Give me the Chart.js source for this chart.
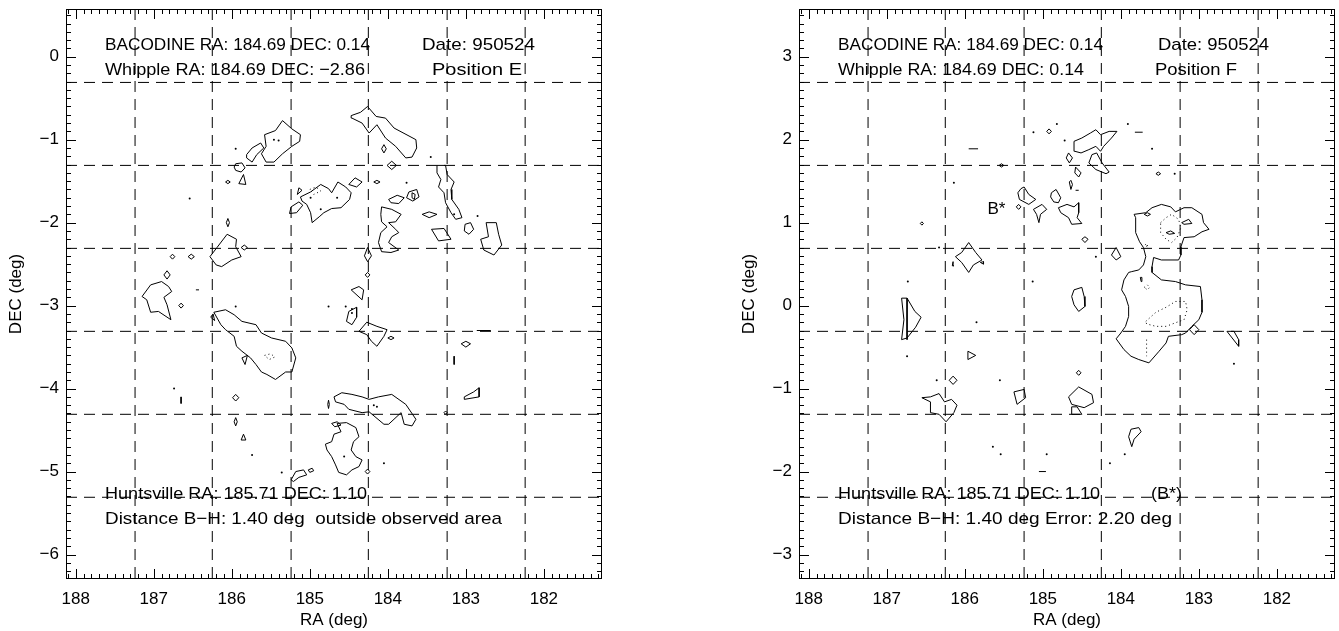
<!DOCTYPE html>
<html>
<head>
<meta charset="utf-8">
<script src="https://cdn.jsdelivr.net/npm/chart.js@4.4.1/dist/chart.umd.min.js"></script>
<style>
  html, body { margin: 0; padding: 0; background: #fff; overflow: hidden; }
  #wrap { position: relative; width: 1339px; height: 631px; }
  canvas { position: absolute; top: 0; }
</style>
</head>
<body>
<div id="wrap">
  <canvas id="panelE" width="669" height="631" style="left:0px"></canvas>
  <canvas id="panelF" width="606" height="631" style="left:733px"></canvas>
</div>
<script>
// ---- axis ranges and tick labels (RA reversed: large values on the left)
const raRange = [188.125, 181.255];
const decRangeE = [-6.295, 0.575];
const decRangeF = [-3.295, 3.575];
const raTickLabels = [188, 187, 186, 185, 184, 183, 182];

// dashed detector grid
const raGrid = [187.24, 186.25, 185.24, 184.25, 183.24, 182.24];
const decGridE = [-0.31, -1.31, -2.31, -3.31, -4.31, -5.31];
const decGridF = [2.69, 1.69, 0.69, -0.31, -1.31, -2.31];

// Huntsville position (the B* marker)
const huntsville = [185.71, 1.10];

// ---- Position E contours [RA, DEC]
const contoursE = [
  [[185.58,-0.94],[185.44,-0.89],[185.35,-0.77],[185.23,-0.87],[185.12,-0.94],[185.13,-1.02],[185.23,-1.08],[185.35,-1.17],[185.46,-1.27],[185.56,-1.27],[185.62,-1.17],[185.56,-1.08]],
  [[185.81,-1.18],[185.74,-1.10],[185.63,-1.04],[185.59,-1.10],[185.68,-1.18],[185.74,-1.27],[185.81,-1.22]],
  [[184.47,-0.71],[184.35,-0.67],[184.26,-0.60],[184.15,-0.72],[184.03,-0.74],[183.92,-0.86],[183.64,-1.00],[183.63,-1.10],[183.69,-1.21],[183.77,-1.22],[183.90,-1.08],[184.03,-0.98],[184.14,-0.82],[184.24,-0.92],[184.33,-0.80],[184.46,-0.74]],
  [[184.08,-1.11],[184.05,-1.06],[184.02,-1.11],[184.05,-1.16]],
  [[184.01,-1.31],[183.95,-1.26],[183.89,-1.31],[183.95,-1.36]],
  [[185.95,-1.29],[185.87,-1.28],[185.83,-1.34],[185.88,-1.39],[185.95,-1.37],[185.97,-1.33]],
  [[185.91,-1.53],[185.85,-1.42],[185.82,-1.54]],
  [[186.08,-1.51],[186.05,-1.49],[186.02,-1.51],[186.05,-1.53]],
  [[185.12,-1.69],[184.99,-1.63],[184.86,-1.54],[184.76,-1.59],[184.72,-1.64],[184.64,-1.51],[184.54,-1.57],[184.47,-1.64],[184.49,-1.72],[184.60,-1.82],[184.72,-1.83],[184.82,-1.88],[184.88,-1.93],[184.97,-2.00],[184.99,-1.88],[185.04,-1.78],[185.10,-1.74]],
  [[185.24,-1.81],[185.14,-1.75],[185.09,-1.79],[185.17,-1.88],[185.26,-1.89]],
  [[185.14,-1.58],[185.10,-1.61],[185.16,-1.66]],
  [[184.50,-1.54],[184.42,-1.46],[184.33,-1.51],[184.40,-1.57]],
  [[184.18,-1.51],[184.14,-1.49],[184.10,-1.51],[184.14,-1.53]],
  [[183.69,-1.64],[183.65,-1.66],[183.66,-1.72],[183.69,-1.70]],
  [[183.99,-1.72],[183.88,-1.67],[183.79,-1.70],[183.86,-1.77],[183.96,-1.76]],
  [[184.08,-1.81],[183.95,-1.84],[183.83,-1.90],[183.90,-1.99],[183.99,-2.00],[183.90,-2.08],[183.86,-2.12],[183.95,-2.17],[183.99,-2.24],[183.86,-2.33],[183.96,-2.36],[184.08,-2.35],[184.12,-2.24],[184.09,-2.12],[184.01,-2.05],[184.08,-1.99],[184.09,-1.90]],
  [[183.37,-1.31],[183.26,-1.31],[183.24,-1.42],[183.15,-1.51],[183.19,-1.60],[183.18,-1.72],[183.09,-1.84],[183.05,-1.94],[183.13,-1.96],[183.19,-1.88],[183.26,-1.76],[183.28,-1.64],[183.35,-1.57],[183.32,-1.48],[183.37,-1.40]],
  [[183.56,-1.90],[183.47,-1.87],[183.37,-1.90],[183.47,-1.94]],
  [[183.44,-2.08],[183.28,-2.07],[183.19,-2.20],[183.35,-2.22]],
  [[183.01,-2.02],[182.94,-2.00],[182.90,-2.08],[182.96,-2.14],[183.02,-2.10]],
  [[182.74,-2.00],[182.61,-2.00],[182.58,-2.14],[182.54,-2.27],[182.64,-2.39],[182.77,-2.33],[182.81,-2.20],[182.71,-2.17]],
  [[183.73,-1.63],[183.63,-1.60],[183.60,-1.69],[183.68,-1.74],[183.76,-1.70]],
  [[186.28,-2.41],[186.19,-2.30],[186.06,-2.14],[185.94,-2.20],[185.95,-2.29],[185.88,-2.41],[186.00,-2.45],[186.13,-2.53],[186.20,-2.51]],
  [[185.88,-2.30],[185.84,-2.27],[185.80,-2.30],[185.84,-2.33]],
  [[186.07,-2.00],[186.05,-1.95],[186.03,-2.00],[186.05,-2.05]],
  [[186.79,-2.41],[186.76,-2.38],[186.73,-2.41],[186.76,-2.44]],
  [[186.56,-2.41],[186.52,-2.38],[186.48,-2.41],[186.52,-2.44]],
  [[187.15,-2.89],[187.04,-2.75],[186.90,-2.71],[186.81,-2.77],[186.77,-2.83],[186.87,-2.90],[186.83,-2.99],[186.78,-3.17],[186.94,-3.07],[187.04,-3.08],[187.09,-2.93]],
  [[186.87,-2.63],[186.83,-2.58],[186.79,-2.63],[186.83,-2.68]],
  [[186.68,-3.00],[186.65,-2.97],[186.62,-3.00],[186.65,-3.03]],
  [[184.26,-2.30],[184.21,-2.40],[184.26,-2.47],[184.30,-2.40]],
  [[184.29,-2.63],[184.26,-2.60],[184.23,-2.63],[184.26,-2.66]],
  [[184.47,-2.81],[184.37,-2.77],[184.31,-2.81],[184.33,-2.93]],
  [[186.23,-3.08],[186.08,-3.05],[185.97,-3.11],[185.87,-3.19],[185.69,-3.23],[185.62,-3.33],[185.49,-3.39],[185.31,-3.43],[185.23,-3.51],[185.18,-3.63],[185.23,-3.80],[185.31,-3.80],[185.44,-3.89],[185.55,-3.83],[185.62,-3.80],[185.69,-3.71],[185.76,-3.63],[185.87,-3.55],[185.94,-3.49],[185.97,-3.37],[186.08,-3.29],[186.14,-3.23]],
  [[185.87,-3.63],[185.80,-3.60],[185.83,-3.71]],
  [[186.27,-3.14],[186.24,-3.10],[186.22,-3.18]],
  [[184.50,-3.07],[184.40,-3.02],[184.40,-3.14],[184.46,-3.23],[184.53,-3.19]],
  [[184.37,-3.31],[184.27,-3.20],[184.14,-3.25],[184.01,-3.29],[184.05,-3.37],[184.14,-3.49],[184.21,-3.43],[184.27,-3.35]],
  [[184.00,-3.39],[183.96,-3.37],[183.92,-3.39],[183.96,-3.41]],
  [[183.06,-3.46],[183.00,-3.43],[182.94,-3.46],[183.00,-3.50]],
  [[183.02,-4.10],[182.90,-4.04],[182.83,-3.99],[182.83,-4.10],[183.02,-4.13]],
  [[184.69,-4.10],[184.59,-4.05],[184.46,-4.07],[184.33,-4.10],[184.24,-4.13],[184.12,-4.10],[183.95,-4.07],[183.77,-4.19],[183.64,-4.37],[183.69,-4.45],[183.79,-4.43],[183.83,-4.29],[183.99,-4.43],[184.05,-4.43],[184.24,-4.28],[184.33,-4.29],[184.50,-4.25],[184.56,-4.19],[184.67,-4.16]],
  [[184.65,-4.42],[184.53,-4.41],[184.41,-4.47],[184.37,-4.58],[184.44,-4.64],[184.47,-4.74],[184.41,-4.82],[184.33,-4.86],[184.37,-4.94],[184.46,-4.98],[184.53,-5.04],[184.63,-5.01],[184.67,-4.92],[184.72,-4.82],[184.78,-4.74],[184.80,-4.67],[184.72,-4.64],[184.69,-4.55],[184.60,-4.52]],
  [[184.72,-4.42],[184.65,-4.40],[184.60,-4.44],[184.68,-4.46]],
  [[185.24,-5.10],[185.18,-5.00],[185.08,-4.98],[185.04,-5.04],[185.14,-5.07],[185.21,-5.12]],
  [[185.02,-4.98],[184.97,-4.96],[184.95,-4.99],[185.00,-5.01]],
  [[184.77,-4.19],[184.76,-4.14],[184.75,-4.19],[184.76,-4.24]],
  [[185.99,-4.11],[185.95,-4.07],[185.91,-4.11],[185.95,-4.15]],
  [[185.97,-4.40],[185.95,-4.35],[185.93,-4.40],[185.95,-4.45]],
  [[185.88,-4.62],[185.85,-4.55],[185.82,-4.62]],
  [[184.29,-5.00],[184.26,-4.97],[184.23,-5.00],[184.26,-5.03]],
  [[183.28,-4.29],[183.26,-4.27],[183.24,-4.29],[183.26,-4.31]]
];
const openE = [
  [[186.65,-4.10],[186.65,-4.18]],
  [[183.15,-3.61],[183.15,-3.71]],
  [[182.86,-3.30],[182.68,-3.30]],
  [[186.46,-2.81],[186.42,-2.81]]
];
const dottedE = [
  [[185.58,-3.60],[185.50,-3.58],[185.45,-3.62],[185.52,-3.65]],
  [[185.00,-1.60],[184.92,-1.57],[184.86,-1.62],[184.95,-1.66]]
];
const dotsE = [
  [186.54,-1.71],[185.95,-1.11],[186.74,-4.00],[183.45,-1.21],[183.76,-1.52],[182.85,-1.92],
  [184.76,-3.01],[184.54,-3.01],[184.46,-3.04],[185.95,-3.01],[184.05,-4.90],[185.36,-5.01],
  [185.74,-4.80],[184.18,-4.20],[184.14,-4.22],[183.15,-1.90],[185.46,-1.00],[185.40,-1.01],
  [184.46,-3.09],[184.56,-4.82],[184.99,-1.70],[184.86,-1.84],[184.65,-1.70]
];

// ---- Position F contours [RA, DEC]
const contoursF = [
  [[184.60,1.98],[184.50,2.02],[184.39,2.08],[184.32,2.12],[184.26,2.06],[184.15,2.10],[184.05,2.10],[184.12,2.02],[184.22,1.92],[184.26,1.86],[184.32,1.92],[184.41,1.88],[184.51,1.84],[184.59,1.86]],
  [[184.37,1.82],[184.31,1.84],[184.24,1.72],[184.15,1.61],[184.19,1.59],[184.32,1.64],[184.41,1.72]],
  [[184.67,1.84],[184.62,1.78],[184.66,1.72],[184.70,1.78]],
  [[184.58,1.67],[184.51,1.60],[184.54,1.55],[184.59,1.60]],
  [[185.28,1.41],[185.24,1.43],[185.18,1.34],[185.09,1.28],[185.18,1.22],[185.30,1.28],[185.32,1.36]],
  [[185.12,1.16],[185.01,1.22],[184.95,1.16],[185.03,1.10],[185.05,1.00],[185.08,1.10]],
  [[184.89,1.36],[184.83,1.40],[184.77,1.30],[184.80,1.24],[184.86,1.25],[184.90,1.31]],
  [[184.80,1.18],[184.69,1.22],[184.60,1.19],[184.54,1.24],[184.54,1.12],[184.56,1.06],[184.50,0.99],[184.63,0.98],[184.67,1.06],[184.77,1.12]],
  [[184.50,0.80],[184.46,0.83],[184.42,0.80],[184.46,0.76]],
  [[184.66,1.49],[184.64,1.51],[184.62,1.46],[184.64,1.40]],
  [[184.06,0.70],[184.00,0.59],[184.06,0.55],[184.12,0.61]],
  [[186.12,0.59],[186.04,0.64],[185.95,0.76],[185.86,0.64],[185.78,0.55],[185.89,0.49],[185.95,0.40],[186.04,0.52]],
  [[186.15,0.53],[186.16,0.48],[186.14,0.48]],
  [[185.80,0.52],[185.76,0.53],[185.76,0.50]],
  [[185.34,1.19],[185.31,1.22],[185.28,1.19],[185.31,1.16]],
  [[183.83,1.10],[183.68,1.12],[183.60,1.18],[183.48,1.22],[183.36,1.19],[183.30,1.13],[183.19,1.18],[183.09,1.18],[182.96,1.10],[182.94,1.00],[182.87,0.92],[182.96,0.89],[183.06,0.83],[183.19,0.82],[183.23,0.71],[183.23,0.61],[183.26,0.55],[183.48,0.55],[183.58,0.58],[183.60,0.47],[183.60,0.40],[183.48,0.31],[183.30,0.29],[183.17,0.25],[182.98,0.23],[182.96,0.07],[182.96,-0.08],[183.00,-0.17],[183.09,-0.25],[183.17,-0.33],[183.22,-0.35],[183.39,-0.37],[183.42,-0.45],[183.51,-0.55],[183.64,-0.69],[183.77,-0.65],[183.87,-0.61],[183.96,-0.53],[184.06,-0.40],[184.00,-0.33],[183.94,-0.25],[183.90,-0.13],[183.90,-0.01],[183.94,0.11],[183.99,0.19],[183.96,0.31],[183.90,0.40],[183.86,0.41],[183.77,0.43],[183.71,0.49],[183.68,0.59],[183.71,0.70],[183.76,0.77],[183.81,0.88],[183.81,0.98],[183.81,1.06]],
  [[183.70,1.10],[183.66,1.12],[183.62,1.10],[183.66,1.08]],
  [[183.22,1.00],[183.13,1.04],[183.09,0.99],[183.19,0.98]],
  [[183.42,0.88],[183.36,0.90],[183.31,0.87],[183.38,0.86]],
  [[183.75,0.34],[183.74,0.29],[183.73,0.34]],
  [[184.60,0.19],[184.50,0.22],[184.47,0.11],[184.46,-0.01],[184.54,-0.07],[184.60,0.01],[184.63,0.11]],
  [[183.12,-0.29],[183.06,-0.23],[183.00,-0.29],[183.06,-0.35]],
  [[186.81,0.09],[186.74,0.09],[186.64,-0.07],[186.56,-0.14],[186.63,-0.26],[186.74,-0.39],[186.81,-0.41],[186.78,-0.17]],
  [[186.55,-1.11],[186.44,-1.10],[186.33,-1.06],[186.26,-1.16],[186.17,-1.13],[186.10,-1.20],[186.14,-1.29],[186.24,-1.40],[186.33,-1.31],[186.44,-1.29],[186.44,-1.16]],
  [[186.20,-0.90],[186.15,-0.85],[186.10,-0.90],[186.15,-0.95]],
  [[185.96,-0.55],[185.86,-0.60],[185.96,-0.65]],
  [[185.37,-1.04],[185.24,-1.01],[185.22,-1.11],[185.33,-1.19]],
  [[184.67,-1.10],[184.54,-0.98],[184.37,-1.07],[184.35,-1.17],[184.47,-1.23],[184.63,-1.19]],
  [[184.63,-1.22],[184.56,-1.22],[184.50,-1.31],[184.63,-1.31]],
  [[184.57,-0.81],[184.54,-0.78],[184.51,-0.81],[184.54,-0.84]],
  [[183.87,-1.49],[183.77,-1.47],[183.74,-1.52],[183.83,-1.61],[183.86,-1.70],[183.90,-1.58]],
  [[182.64,-0.31],[182.55,-0.31],[182.49,-0.41],[182.49,-0.49]],
  [[186.57,0.99],[186.55,1.01],[186.53,0.99],[186.55,0.97]],
  [[185.56,1.69],[185.53,1.71],[185.50,1.69],[185.53,1.67]],
  [[184.95,2.10],[184.92,2.13],[184.89,2.10],[184.92,2.07]],
  [[183.55,1.59],[183.52,1.61],[183.49,1.59],[183.52,1.57]]
];
const openF = [
  [[185.95,1.89],[185.83,1.89]],
  [[183.82,2.09],[183.72,2.09]],
  [[185.05,-2.00],[184.96,-2.00]],
  [[184.58,1.39],[184.54,1.39]],
  [[186.74,0.09],[186.74,-0.41]]
];
const dottedF = [
  [[183.49,1.00],[183.42,1.06],[183.35,1.10],[183.26,1.04],[183.23,0.94],[183.28,0.82],[183.35,0.76],[183.42,0.80],[183.49,0.88]],
  [[183.68,-0.19],[183.55,-0.08],[183.42,-0.02],[183.30,0.05],[183.17,0.05],[183.15,-0.05],[183.19,-0.17],[183.28,-0.20],[183.42,-0.25],[183.55,-0.25],[183.67,-0.22]],
  [[183.70,0.22],[183.66,0.25],[183.63,0.22],[183.66,0.19]],
  [[183.69,0.73],[183.67,0.75],[183.65,0.70]]
];
const dottedOpenF = [
  [[183.67,-0.41],[183.67,-0.61]]
];
const dotsF = [
  [186.36,-0.90],[185.55,-0.90],[185.64,-1.70],[185.54,-1.79],[184.95,-1.79],[183.95,-1.79],
  [184.14,-1.90],[186.74,-0.61],[182.55,-0.70],[186.33,0.70],[186.14,1.48],[186.73,0.29],
  [185.13,0.29],[185.12,2.09],[184.82,2.19],[184.72,1.99],[183.91,2.19],[183.60,1.89],
  [183.31,1.59],[184.32,0.59],[185.85,-0.20]
];

// ---- text lines: offset from the frame corner and the width each line spans
const notesE = [
  { text: 'BACODINE RA: 184.69 DEC: 0.14', dx: 39, dy: 41, w: 265 },
  { text: 'Date: 950524', dx: 356, dy: 41, w: 113 },
  { text: 'Whipple RA: 184.69 DEC: \u22122.86', dx: 39, dy: 66, w: 260 },
  { text: 'Position E', dx: 366, dy: 66, w: 90 },
  { text: 'Huntsville RA: 185.71 DEC: 1.10', dx: 39, dy: 490, w: 262 },
  { text: 'Distance B\u2212H: 1.40 deg  outside observed area', dx: 39, dy: 515, w: 397 }
];
const notesF = [
  { text: 'BACODINE RA: 184.69 DEC: 0.14', dx: 39, dy: 41, w: 265 },
  { text: 'Date: 950524', dx: 359, dy: 41, w: 111 },
  { text: 'Whipple RA: 184.69 DEC: 0.14', dx: 39, dy: 66, w: 246 },
  { text: 'Position F', dx: 356, dy: 66, w: 82 },
  { text: 'Huntsville RA: 185.71 DEC: 1.10', dx: 39, dy: 490, w: 262 },
  { text: '(B*)', dx: 352, dy: 490, w: 31 },
  { text: 'Distance B\u2212H: 1.40 deg Error: 2.20 deg', dx: 39, dy: 515, w: 334 }
];

const FONT = { family: '"Liberation Sans", Arial, sans-serif', size: 17 };

function pts(list) { return list.map(p => ({ x: p[0], y: p[1] })); }

function lineSet(data, dash) {
    return { data: data, showLine: true, borderColor: '#000', borderWidth: 1, pointRadius: 0, borderDash: dash || [], tension: 0 };
}

function buildDatasets(decRange, decGrid, contours, open, dotted, dottedOpen, dots) {
    let sets = [];
    // dashed grid
    raGrid.forEach(v => sets.push(lineSet(pts([[v, decRange[1]], [v, decRange[0]]]), [11, 7])));
    decGrid.forEach(v => sets.push(lineSet(pts([[raRange[0], v], [raRange[1], v]]), [11, 7])));
    // closed contours
    contours.forEach(c => sets.push(lineSet(pts(c.concat([c[0]])))));
    open.forEach(c => sets.push(lineSet(pts(c))));
    dotted.forEach(c => sets.push(lineSet(pts(c.concat([c[0]])), [1, 3])));
    dottedOpen.forEach(c => sets.push(lineSet(pts(c), [1, 3])));
    sets.push({ data: pts(dots), showLine: false, pointRadius: 1, pointBorderWidth: 0, backgroundColor: '#000' });
    return sets;
}

// text stretched horizontally to the width it has in the original plot
function fitText(ctx, text, x, y, w) {
    const natural = ctx.measureText(text).width;
    ctx.save();
    ctx.translate(x, y);
    ctx.scale(w ? w / natural : 1, 1);
    ctx.fillText(text, 0, 0);
    ctx.restore();
}

// frame with inward major/minor ticks on all four sides, plus the text lines
const frameAndNotes = {
    id: 'frameAndNotes',
    afterDraw(chart, args, opts) {
        const { ctx, chartArea: a, scales: { x, y } } = chart;
        ctx.save();
        ctx.strokeStyle = '#000';
        ctx.lineWidth = 1;
        ctx.strokeRect(a.left + 0.5, a.top + 0.5, a.right - a.left - 1, a.bottom - a.top - 1);
        ctx.beginPath();
        for (let i = Math.ceil(x.min * 10); i <= Math.floor(x.max * 10); i++) {
            const len = i % 10 === 0 ? 10 : 5;
            const px = Math.round(x.getPixelForValue(i / 10)) + 0.5;
            ctx.moveTo(px, a.bottom); ctx.lineTo(px, a.bottom - len);
            ctx.moveTo(px, a.top); ctx.lineTo(px, a.top + len);
        }
        for (let i = Math.ceil(y.min * 10); i <= Math.floor(y.max * 10); i++) {
            const len = i % 10 === 0 ? 10 : 5;
            const py = Math.round(y.getPixelForValue(i / 10)) + 0.5;
            ctx.moveTo(a.left, py); ctx.lineTo(a.left + len, py);
            ctx.moveTo(a.right, py); ctx.lineTo(a.right - len, py);
        }
        ctx.stroke();

        ctx.fillStyle = '#000';
        ctx.font = FONT.size + 'px ' + FONT.family;
        ctx.textBaseline = 'alphabetic';
        (opts.items || []).forEach(n => fitText(ctx, n.text, a.left + n.dx, a.top + n.dy, n.w));
        if (opts.marker) {
            fitText(ctx, 'B*', x.getPixelForValue(opts.marker[0]), y.getPixelForValue(opts.marker[1]), 18);
        }
        ctx.restore();
    }
};

// drop the label half-height padding so the frame sits exactly where asked
function noPad(s) { s.paddingTop = 0; s.paddingBottom = 0; s.paddingLeft = 0; s.paddingRight = 0; }

function makePanel(id, decRange, datasets, notes, marker, padRight) {
    new Chart(document.getElementById(id), {
        type: 'scatter',
        data: { datasets: datasets },
        plugins: [frameAndNotes],
        options: {
            responsive: false,
            animation: false,
            events: [],
            layout: { padding: { top: 9, right: padRight, left: 0, bottom: 0 } },
            plugins: {
                legend: { display: false },
                tooltip: { enabled: false },
                frameAndNotes: { items: notes, marker: marker }
            },
            scales: {
                x: {
                    type: 'linear', reverse: true,
                    min: raRange[1], max: raRange[0],
                    afterFit: s => { s.height = 52; noPad(s); },
                    grid: { display: false, drawTicks: false },
                    border: { display: false },
                    ticks: {
                        stepSize: 1, includeBounds: false, autoSkip: false, maxRotation: 0,
                        color: '#000', font: FONT, padding: 10,
                        callback: v => raTickLabels.includes(v) ? String(v) : ''
                    },
                    title: { display: true, text: 'RA (deg)', color: '#000', font: FONT, padding: { top: 0, bottom: 0 } }
                },
                y: {
                    type: 'linear',
                    min: decRange[0], max: decRange[1],
                    afterFit: s => { s.width = 66; noPad(s); },
                    grid: { display: false, drawTicks: false },
                    border: { display: false },
                    ticks: {
                        stepSize: 1, includeBounds: false, autoSkip: false,
                        color: '#000', font: FONT, padding: 7,
                        callback: v => String(v).replace('-', '\u2212')
                    },
                    title: { display: true, text: 'DEC (deg)', color: '#000', font: FONT, padding: { top: 6, bottom: 0 } }
                }
            }
        }
    });
}

makePanel('panelE', decRangeE,
    buildDatasets(decRangeE, decGridE, contoursE, openE, dottedE, [], dotsE),
    notesE, null, 67);
makePanel('panelF', decRangeF,
    buildDatasets(decRangeF, decGridF, contoursF, openF, dottedF, dottedOpenF, dotsF),
    notesF, huntsville, 4);
</script>
</body>
</html>
